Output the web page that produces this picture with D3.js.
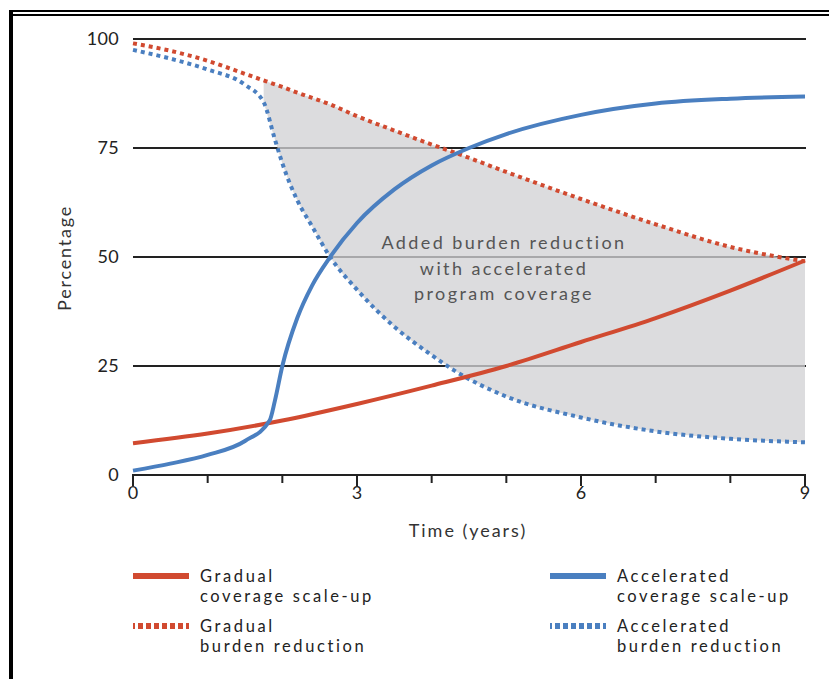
<!DOCTYPE html>
<html>
<head>
<meta charset="utf-8">
<script src="https://cdn.jsdelivr.net/npm/d3@7"></script>
<style>
  body { margin: 0; background: #fff; }
  text { font-family: Lato, "Open Sans", sans-serif; }
</style>
</head>
<body>
<div id="chart"></div>
<script>

var width = 829;
var height = 679;

// gradual coverage scale-up (solid red)
var gradualX = [0, 1, 2, 3, 4, 5, 6, 7, 8, 9];
var gradualCoverage = [7.3, 9.5, 12.5, 16.3, 20.5, 25, 30.5, 36, 42.3, 49.2];

// accelerated coverage scale-up (solid blue)
var accelX = [0, 0.5, 1, 1.5, 1.83, 1.9, 2, 2.2, 2.4, 2.64, 3, 3.5, 4, 4.5, 5, 6, 7, 8, 9];
var accelCoverage = [1, 2.6, 4.6, 7.8, 12.5, 17, 25, 36, 43.5, 50, 57.8, 65.5, 71, 75, 78.2, 82.6, 85.2, 86.3, 86.8];

// burden reduction, both on the same time points
var burdenX = [0, 0.5, 1, 1.5, 1.75, 1.9, 2, 2.2, 2.4, 2.64, 3, 3.5, 4, 4.3, 5, 6, 7, 8, 9];
var gradualBurden = [99, 97.3, 95, 92, 90.5, 89.6, 89, 87.7, 86.5, 85, 82.3, 79, 75.8, 74, 69.5, 63.3, 57.5, 52.3, 49];
var accelBurden = [97.5, 95.5, 93, 89.5, 85.5, 77, 71.5, 63, 57, 50, 42.5, 34, 27.5, 24, 18, 13.2, 10, 8.3, 7.5];

var yTicks = [0, 25, 50, 75, 100];
var xTicks = [0, 1, 2, 3, 4, 5, 6, 7, 8, 9];
var xLabels = [0, 3, 6, 9];

var red = "#d14a30";
var blue = "#4a7fc0";

var svg = d3.select("#chart")
    .append("svg")
    .attr("width", width)
    .attr("height", height);

// frame
svg.append("rect").attr("x", 9).attr("y", 10).attr("width", 4).attr("height", height - 10).attr("fill", "#000");
svg.append("rect").attr("x", 9).attr("y", 10).attr("width", width - 9).attr("height", 2).attr("fill", "#000");
svg.append("rect").attr("x", 9).attr("y", 14).attr("width", width - 9).attr("height", 2).attr("fill", "#000");

var x = d3.scaleLinear().domain([0, 9]).range([133, 805]);
var y = d3.scaleLinear().domain([0, 100]).range([475, 39]);

// gridlines
svg.selectAll(".grid")
    .data(yTicks.filter(function(d){ return d > 0; }))
    .enter()
    .append("line")
    .attr("x1", x(0))
    .attr("x2", x(9) + 1)
    .attr("y1", function(d){ return y(d); })
    .attr("y2", function(d){ return y(d); })
    .attr("stroke", "#222")
    .attr("stroke-width", 2);

// shaded gap between burden curves
var burden = burdenX.map(function(t, i){
  return { t: t, g: gradualBurden[i], a: accelBurden[i] };
}).filter(function(d){ return d.t >= 1.75; });

var area = d3.area()
    .curve(d3.curveMonotoneX)
    .x(function(d){ return x(d.t); })
    .y0(function(d){ return y(d.a); })
    .y1(function(d){ return y(d.g); });

svg.append("path")
    .datum(burden)
    .attr("d", area)
    .attr("fill", "#d1d2d4")
    .attr("fill-opacity", 0.77);

// y axis labels
svg.selectAll(".ylab")
    .data(yTicks)
    .enter()
    .append("text")
    .attr("x", 119)
    .attr("y", function(d){ return y(d) + 6; })
    .attr("text-anchor", "end")
    .attr("font-size", 18)
    .attr("letter-spacing", 0.3)
    .attr("fill", "#222")
    .text(function(d){ return d; });

svg.append("text")
    .attr("transform", "translate(71,258) rotate(-90)")
    .attr("text-anchor", "middle")
    .attr("font-size", 18)
    .attr("letter-spacing", 1.8)
    .attr("fill", "#333")
    .text("Percentage");

// x axis
svg.append("line")
    .attr("x1", x(0) - 1).attr("x2", x(9) + 1)
    .attr("y1", y(0)).attr("y2", y(0))
    .attr("stroke", "#222").attr("stroke-width", 2);

svg.selectAll(".tick")
    .data(xTicks)
    .enter()
    .append("line")
    .attr("x1", function(d){ return x(d); })
    .attr("x2", function(d){ return x(d); })
    .attr("y1", y(0))
    .attr("y2", function(d){ return y(0) + (d % 3 == 0 ? 11 : 8); })
    .attr("stroke", "#222")
    .attr("stroke-width", 2);

svg.selectAll(".xlab")
    .data(xLabels)
    .enter()
    .append("text")
    .attr("x", function(d){ return x(d); })
    .attr("y", 499)
    .attr("text-anchor", "middle")
    .attr("font-size", 18)
    .attr("fill", "#222")
    .text(function(d){ return d; });

svg.append("text")
    .attr("x", 468)
    .attr("y", 537)
    .attr("text-anchor", "middle")
    .attr("font-size", 18)
    .attr("letter-spacing", 2)
    .attr("fill", "#333")
    .text("Time (years)");

// annotation
svg.selectAll(".note")
    .data(["Added burden reduction", "with accelerated", "program coverage"])
    .enter()
    .append("text")
    .attr("x", 504)
    .attr("y", function(d, i){ return 249 + i * 25.5; })
    .attr("text-anchor", "middle")
    .attr("font-size", 18)
    .attr("letter-spacing", 2.4)
    .attr("fill", "#555")
    .text(function(d){ return d; });

// lines
var line = d3.line()
    .curve(d3.curveMonotoneX)
    .x(function(d){ return x(d[0]); })
    .y(function(d){ return y(d[1]); });

function pairs(xs, ys) {
  return xs.map(function(t, i){ return [t, ys[i]]; });
}

svg.append("path")
    .attr("d", line(pairs(burdenX, gradualBurden)))
    .attr("fill", "none").attr("stroke", red)
    .attr("stroke-width", 4).attr("stroke-dasharray", "4,4");

svg.append("path")
    .attr("d", line(pairs(burdenX, accelBurden)))
    .attr("fill", "none").attr("stroke", blue)
    .attr("stroke-width", 4).attr("stroke-dasharray", "4,4");

svg.append("path")
    .attr("d", line(pairs(gradualX, gradualCoverage)))
    .attr("fill", "none").attr("stroke", red)
    .attr("stroke-width", 4);

svg.append("path")
    .attr("d", line(pairs(accelX, accelCoverage)))
    .attr("fill", "none").attr("stroke", blue)
    .attr("stroke-width", 4);

// legend
var legendItems = [
  { col: 0, row: 0, color: red, dash: null, lines: ["Gradual", "coverage scale-up"] },
  { col: 0, row: 1, color: red, dash: "5,3", lines: ["Gradual", "burden reduction"] },
  { col: 1, row: 0, color: blue, dash: null, lines: ["Accelerated", "coverage scale-up"] },
  { col: 1, row: 1, color: blue, dash: "5,3", lines: ["Accelerated", "burden reduction"] }
];

var leg = svg.selectAll(".leg")
    .data(legendItems)
    .enter()
    .append("g")
    .attr("transform", function(d){
      return "translate(" + (d.col ? 550 : 133) + "," + (576 + d.row * 50) + ")";
    });

leg.append("line")
    .attr("x1", 0).attr("x2", 56)
    .attr("y1", 0).attr("y2", 0)
    .attr("stroke", function(d){ return d.color; })
    .attr("stroke-width", 6)
    .attr("stroke-dasharray", function(d){ return d.dash; })
    .attr("stroke-dashoffset", function(d){ return d.dash ? 3 : null; });

leg.selectAll("text")
    .data(function(d){ return d.lines; })
    .enter()
    .append("text")
    .attr("x", 67)
    .attr("y", function(d, i){ return 6 + i * 20; })
    .attr("font-size", 16.5)
    .attr("letter-spacing", 2.6)
    .attr("fill", "#222")
    .text(function(d){ return d; });

</script>
</body>
</html>
